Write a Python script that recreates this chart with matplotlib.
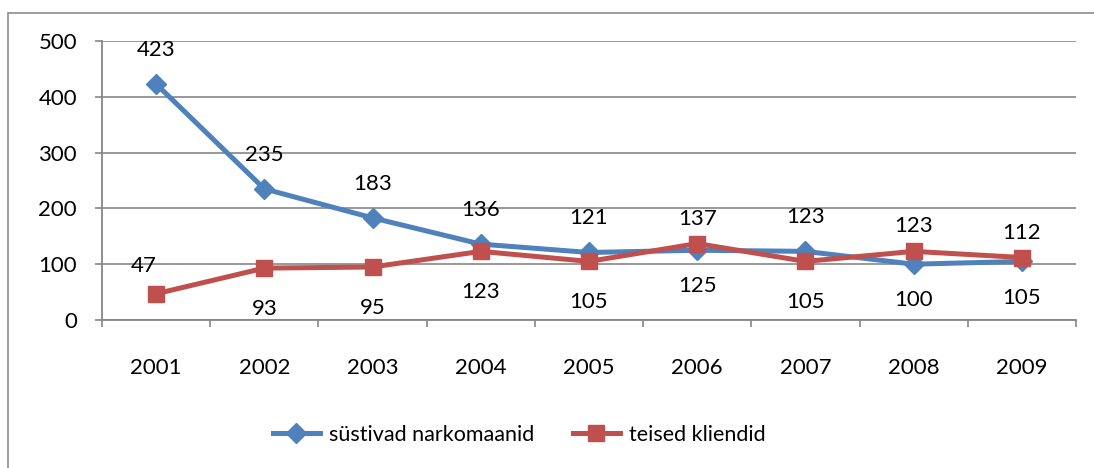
import matplotlib
matplotlib.use("Agg")
import matplotlib.pyplot as plt
from matplotlib.patches import Rectangle
from matplotlib.lines import Line2D

years = ["2001", "2002", "2003", "2004", "2005", "2006", "2007", "2008", "2009"]
blue_name = "süstivad narkomaanid"
red_name = "teised kliendid"
blue_vals = [423, 235, 183, 136, 121, 125, 123, 100, 105]
red_vals = [47, 93, 95, 123, 105, 137, 105, 123, 112]
blue_pos = ["above", "above", "above", "above", "above", "below", "above", "below", "below"]
red_pos = ["above", "below", "below", "below", "below", "above", "below", "above", "above"]

BLUE = "#4F81BD"
RED = "#C0504D"
GREY = "#868686"
FONT = "Lato"
FS = 16
LFS = 15.5

W, H = 1094, 468
fig = plt.figure(figsize=(W / 100, H / 100), dpi=100)
# outer chart frame (extends beyond right/bottom edges)
fig.patches.append(Rectangle((8 / W, -0.1), 1.2, (H - 13) / H + 0.1, transform=fig.transFigure,
                             fill=False, edgecolor="#8c8c8c", linewidth=1.2))

ax = fig.add_axes([102 / W, (H - 320) / H, (1076 - 102) / W, (320 - 41) / H])
x = list(range(len(years)))
ax.plot(x, blue_vals, color=BLUE, lw=3.6, marker="D", ms=10, mfc=BLUE, mec=BLUE,
        solid_joinstyle="round", zorder=3)
ax.plot(x, red_vals, color=RED, lw=3.6, marker="s", ms=11.5, mfc=RED, mec=RED,
        solid_joinstyle="round", zorder=4)

ax.set_xlim(-0.5, len(years) - 0.5)
ax.set_ylim(0, 500)
ax.set_yticks([0, 100, 200, 300, 400, 500])
ax.set_xticks([i + 0.5 for i in range(-1, len(years))], minor=False)
ax.set_xticklabels([])
ax.set_xticks(x, minor=True)
ax.set_xticklabels(years, minor=True)
ax.tick_params(axis="x", which="major", direction="out", length=5, width=1.2, color=GREY)
ax.tick_params(axis="x", which="minor", length=0, pad=27, labelsize=FS)
ax.tick_params(axis="y", direction="out", length=5, width=1.2, color=GREY, pad=13, labelsize=FS)
for lab in ax.get_xticklabels(minor=True) + ax.get_yticklabels():
    lab.set_fontfamily(FONT)

ax.grid(axis="y", color=GREY, lw=1.2)
ax.set_axisbelow(True)
for s in ["top", "right"]:
    ax.spines[s].set_visible(False)
for s in ["left", "bottom"]:
    ax.spines[s].set_color(GREY)
    ax.spines[s].set_linewidth(1.3)

def lab(vals, pos, up, down, dx0=None):
    for i, (v, p) in enumerate(zip(vals, pos)):
        dy = up if p == "above" else -down
        dx = 0
        if dx0 is not None and i == 0:
            dx, dy = dx0
        ax.annotate(str(v), (i, v), xytext=(dx, dy), textcoords="offset points",
                    ha="center", va="center", fontsize=FS, family=FONT, zorder=5)

lab(blue_vals, blue_pos, 24.5, 26)
lab(red_vals, red_pos, 18, 29.5, dx0=(-9, 20))

handles = [Line2D([], [], color=BLUE, lw=3.6, marker="D", ms=10),
           Line2D([], [], color=RED, lw=3.6, marker="s", ms=11.5)]
fig.legend(handles, [blue_name, red_name], loc="center", bbox_to_anchor=(519 / W, 1 - 435 / H),
           ncol=2, frameon=False, prop={"family": FONT, "size": LFS}, handlelength=2.2,
           columnspacing=1.8, handletextpad=0.4)

fig.savefig("out.png", dpi=100)
